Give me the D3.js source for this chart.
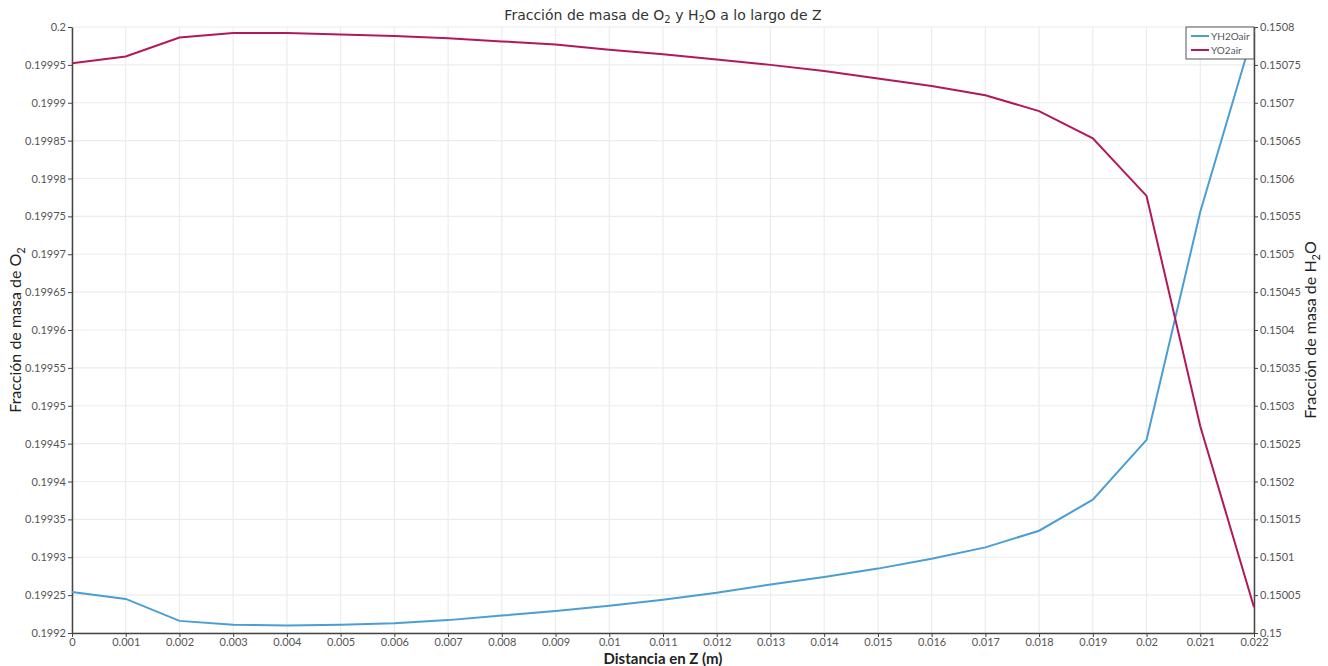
<!DOCTYPE html>
<html>
<head>
<meta charset="utf-8">
<script src="https://cdn.jsdelivr.net/npm/d3@7"></script>
<style>
  body { margin: 0; background: #fff; }
  text { font-family: Lato, "Noto Sans", sans-serif; }
</style>
</head>
<body>
<script>
// data
const zValues = [0, 0.001, 0.002, 0.003, 0.004, 0.005, 0.006, 0.007, 0.008, 0.009, 0.01,
  0.011, 0.012, 0.013, 0.014, 0.015, 0.016, 0.017, 0.018, 0.019, 0.02, 0.021, 0.022];

const yO2air = [0.199952, 0.199961, 0.199986, 0.199992, 0.199992, 0.19999, 0.199988, 0.199985,
  0.199981, 0.199977, 0.19997, 0.199964, 0.199957, 0.19995, 0.199942, 0.199932, 0.199922,
  0.19991, 0.199889, 0.199853, 0.199777, 0.199473, 0.199234];

const yH2Oair = [0.150054, 0.150045, 0.150016, 0.150011, 0.15001, 0.150011, 0.150013, 0.150017,
  0.150023, 0.150029, 0.150036, 0.150044, 0.150053, 0.150064, 0.150074, 0.150085, 0.150098,
  0.150113, 0.150135, 0.150176, 0.150255, 0.150556, 0.150796];

const xTicks = zValues;
const leftTicks = [0.1992, 0.19925, 0.1993, 0.19935, 0.1994, 0.19945, 0.1995, 0.19955, 0.1996,
  0.19965, 0.1997, 0.19975, 0.1998, 0.19985, 0.1999, 0.19995, 0.2];
const rightTicks = [0.15, 0.15005, 0.1501, 0.15015, 0.1502, 0.15025, 0.1503, 0.15035, 0.1504,
  0.15045, 0.1505, 0.15055, 0.1506, 0.15065, 0.1507, 0.15075, 0.1508];

let margin = {top: 27, left: 72, bottom: 33, right: 74};
let W = 1328, H = 666;
let width = W - margin.left - margin.right;
let height = H - margin.top - margin.bottom;

const svg = d3.select("body").append("svg")
  .attr("width", W).attr("height", H);
const g = svg.append("g")
  .attr("transform", `translate(${margin.left}, ${margin.top})`);

const x = d3.scaleLinear().domain([0, 0.022]).range([0, width]);
const yL = d3.scaleLinear().domain([0.1992, 0.2]).range([height, 0]);
const yR = d3.scaleLinear().domain([0.15, 0.1508]).range([height, 0]);

const trim = d => String(+d.toFixed(6));

// grid
g.append("g").selectAll("line").data(xTicks).enter().append("line")
  .attr("x1", d => x(d)).attr("x2", d => x(d))
  .attr("y1", 0).attr("y2", height)
  .attr("stroke", "#ececec").attr("stroke-width", 1.2);
g.append("g").selectAll("line").data(leftTicks).enter().append("line")
  .attr("x1", 0).attr("x2", width)
  .attr("y1", d => yL(d)).attr("y2", d => yL(d))
  .attr("stroke", "#ececec").attr("stroke-width", 1.2);

function styleAxis(sel) {
  sel.select(".domain").attr("stroke", "#444").attr("stroke-width", 1.5);
  sel.selectAll(".tick line").attr("stroke", "#444");
  sel.selectAll(".tick text").attr("fill", "#555").style("font-size", "11px")
    .style("font-family", "Lato, 'Noto Sans', sans-serif");
}

g.append("g").attr("transform", `translate(0, ${height})`)
  .call(d3.axisBottom(x).tickValues(xTicks).tickFormat(trim).tickSize(4).tickSizeOuter(0).tickPadding(1))
  .call(styleAxis);
g.append("g")
  .call(d3.axisLeft(yL).tickValues(leftTicks).tickFormat(trim).tickSize(4).tickSizeOuter(0).tickPadding(2))
  .call(styleAxis);
g.append("g").attr("transform", `translate(${width}, 0)`)
  .call(d3.axisRight(yR).tickValues(rightTicks).tickFormat(trim).tickSize(4).tickSizeOuter(0).tickPadding(2))
  .call(styleAxis);

// lines
const blue = "#4a9ed4", red = "#b2185a";
g.append("path").datum(zValues.map((z, i) => [z, yH2Oair[i]]))
  .attr("fill", "none").attr("stroke", blue).attr("stroke-width", 2)
  .attr("d", d3.line().x(d => x(d[0])).y(d => yR(d[1])));
g.append("path").datum(zValues.map((z, i) => [z, yO2air[i]]))
  .attr("fill", "none").attr("stroke", red).attr("stroke-width", 2)
  .attr("d", d3.line().x(d => x(d[0])).y(d => yL(d[1])));

// legend
const legendItems = [{name: "YH2Oair", color: blue}, {name: "YO2air", color: red}];
const lg = g.append("g").attr("transform", `translate(${width - 68}, 0)`);
lg.append("rect").attr("width", 68).attr("height", 32)
  .attr("fill", "#fff").attr("stroke", "#555").attr("stroke-width", 1);
legendItems.forEach((d, i) => {
  lg.append("line").attr("x1", 5).attr("x2", 23)
    .attr("y1", 9 + i * 14).attr("y2", 9 + i * 14)
    .attr("stroke", d.color).attr("stroke-width", 2);
  lg.append("text").attr("x", 25).attr("y", 9 + i * 14).attr("dy", "0.35em")
    .style("font-size", "10px").attr("fill", "#555").text(d.name);
});

// title
const title = svg.append("text").attr("x", 663).attr("y", 20).attr("text-anchor", "middle")
  .style("font-family", "'DejaVu Sans', sans-serif").style("font-size", "14px").attr("fill", "#333");
title.append("tspan").text("Fracción de masa de O");
title.append("tspan").text("2").style("font-size", "10px").attr("dy", 3);
title.append("tspan").text(" y H").attr("dy", -3);
title.append("tspan").text("2").style("font-size", "10px").attr("dy", 3);
title.append("tspan").text("O a lo largo de Z").attr("dy", -3);

// axis titles
const yl = svg.append("text").attr("transform", `translate(21, ${margin.top + height / 2}) rotate(-90)`)
  .attr("text-anchor", "middle").style("font-size", "16px").attr("fill", "#222");
yl.append("tspan").text("Fracción de masa de O");
yl.append("tspan").text("2").style("font-size", "11px").attr("dy", 4);

const yr = svg.append("text").attr("transform", `translate(1316, ${margin.top + height / 2}) rotate(-90)`)
  .attr("text-anchor", "middle").style("font-size", "16px").attr("fill", "#222");
yr.append("tspan").text("Fracción de masa de H");
yr.append("tspan").text("2").style("font-size", "11px").attr("dy", 4);
yr.append("tspan").text("O").attr("dy", -4);

svg.append("text").attr("x", 663).attr("y", 664).attr("text-anchor", "middle")
  .style("font-size", "15px").style("font-weight", "bold").attr("fill", "#222")
  .text("Distancia en Z (m)");
</script>
</body>
</html>
